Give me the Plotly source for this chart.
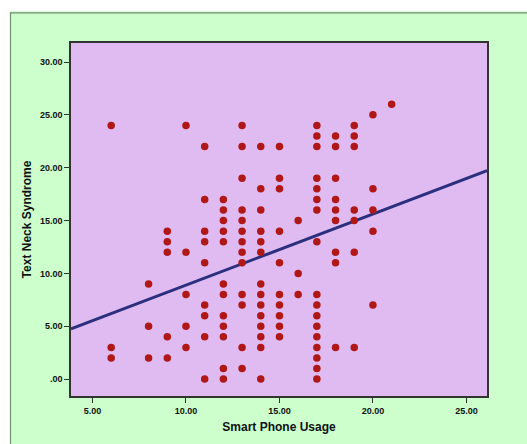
import numpy as np
import plotly.graph_objects as go

# Data: Smart Phone Usage (x) vs Text Neck Syndrome (y)
columns = {
    6: [24, 3, 2],
    8: [9, 5, 2],
    9: [14, 13, 12, 4, 2],
    10: [24, 12, 8, 5, 3],
    11: [22, 17, 14, 13, 11, 7, 6, 4, 0],
    12: [17, 16, 15, 14, 13, 9, 8, 6, 5, 4, 1, 0],
    13: [24, 22, 19, 16, 15, 14, 13, 12, 11, 8, 7, 3, 1],
    14: [22, 18, 16, 14, 13, 12, 9, 8, 7, 6, 5, 4, 3, 0],
    15: [22, 19, 18, 14, 11, 8, 7, 6, 5, 4],
    16: [15, 10, 8],
    17: [24, 23, 22, 19, 18, 17, 16, 13, 8, 7, 6, 5, 4, 3, 2, 1, 0],
    18: [23, 22, 19, 17, 16, 15, 12, 11, 3],
    19: [24, 23, 22, 16, 15, 12, 3],
    20: [25, 18, 16, 14, 7],
    21: [26],
}
usage = [x for x, ys in columns.items() for _ in ys]
neck = [y for ys in columns.values() for y in ys]

x_ticks = [5, 10, 15, 20, 25]
x_labels = ["5.00", "10.00", "15.00", "20.00", "25.00"]
y_ticks = [0, 5, 10, 15, 20, 25, 30]
y_labels = [".00", "5.00", "10.00", "15.00", "20.00", "25.00", "30.00"]

x_range = [3.85, 26.1]
y_range = [-1.6, 31.8]

# Fit line as shown in the chart
fit_slope = 0.673
fit_intercept = 2.16
line_x = x_range
line_y = [fit_intercept + fit_slope * v for v in line_x]

fig = go.Figure()
fig.add_trace(go.Scatter(
    x=line_x, y=line_y, mode="lines",
    line=dict(color="#2B2F7D", width=3), hoverinfo="skip", showlegend=False,
))
fig.add_trace(go.Scatter(
    x=usage, y=neck, mode="markers",
    marker=dict(color="#B01818", size=7.5, line=dict(width=0)),
    showlegend=False,
))

L, T, R, B = 71, 43, 40, 44
W, H = 527, 444
pw, ph = W - L - R, H - T - B

def px_x(p):
    return (p - L) / pw

def px_y(p):
    return 1 - (p - T) / ph

# white strips outside the green frame (top and left)
fig.add_shape(type="rect", xref="paper", yref="paper",
              x0=px_x(-5), x1=px_x(W + 5), y0=px_y(11), y1=px_y(-5),
              line=dict(width=0), fillcolor="white", layer="below")
fig.add_shape(type="rect", xref="paper", yref="paper",
              x0=px_x(-5), x1=px_x(10), y0=px_y(H + 5), y1=px_y(-5),
              line=dict(width=0), fillcolor="white", layer="below")
# frame border
fig.add_shape(type="rect", xref="paper", yref="paper",
              x0=px_x(10.5), x1=px_x(W + 20), y0=px_y(H + 20), y1=px_y(12.5),
              line=dict(color="#6E8E6E", width=1.2), fillcolor="rgba(0,0,0,0)",
              layer="below")

tick_font = dict(family="Liberation Sans, Arial, sans-serif", size=9, color="#111111", weight="bold")
title_font = dict(family="Liberation Sans, Arial, sans-serif", size=12, color="#111111", weight="bold")
fig.update_layout(
    width=W, height=H,
    margin=dict(l=L, r=R, t=T, b=B),
    paper_bgcolor="#CCFFCC",
    plot_bgcolor="#DFBBF2",
    font=dict(family="Liberation Sans, Arial, sans-serif"),
    xaxis=dict(
        range=x_range, tickvals=x_ticks, ticktext=x_labels,
        showgrid=False, zeroline=False, ticks="outside", ticklen=5,
        tickcolor="#333333", tickwidth=1.2,
        showline=True, linecolor="#333333", linewidth=1.5, mirror=True,
        tickfont=tick_font,
        title=dict(text="Smart Phone Usage", standoff=8, font=title_font),
    ),
    yaxis=dict(
        range=y_range, tickvals=y_ticks, ticktext=y_labels,
        showgrid=False, zeroline=False, ticks="outside", ticklen=5,
        tickcolor="#333333", tickwidth=1.2,
        showline=True, linecolor="#333333", linewidth=1.5, mirror=True,
        tickfont=tick_font,
        title=dict(text="Text Neck Syndrome", standoff=6, font=title_font),
    ),
)

fig.write_html("out.html")
